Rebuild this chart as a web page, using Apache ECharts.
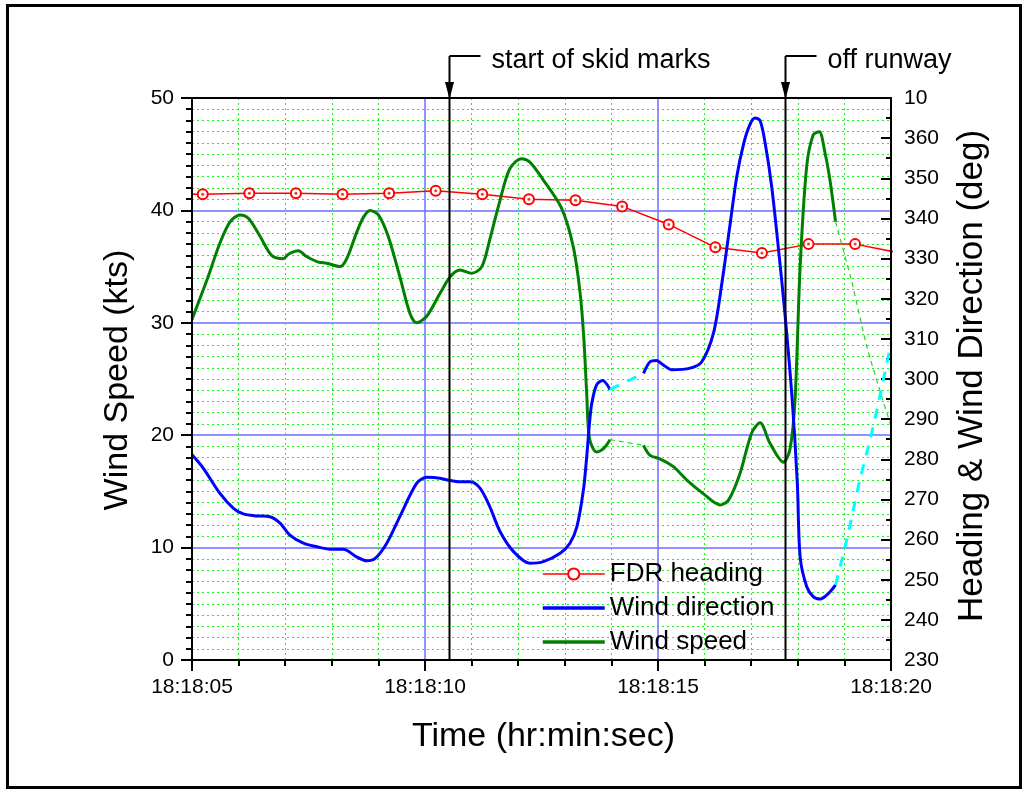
<!DOCTYPE html>
<html><head><meta charset="utf-8">
<script src="https://cdn.jsdelivr.net/npm/echarts@6/dist/echarts.min.js"></script>
<style>html,body{margin:0;padding:0;background:#fff}#c{width:1027px;height:793px}</style>
</head><body><div id="c"></div>
<script>
// ---- data (time = seconds after 18:18:00) ----
const xTickLabels = ['18:18:05', '18:18:10', '18:18:15', '18:18:20'];
const rightTickLabels = ['230','240','250','260','270','280','290','300','310','320','330','340','350','360','10'];

const headingTime = [4.23, 5.23, 6.23, 7.23, 8.23, 9.23, 10.23, 11.23, 12.23, 13.23, 14.23, 15.23, 16.23, 17.23, 18.23, 19.23, 20.23];
const headingDeg  = [346.0, 346.0, 346.3, 346.3, 346.0, 346.3, 346.9, 346.0, 344.8, 344.5, 343.0, 338.5, 332.8, 331.4, 333.6, 333.6, 331.3];

const speedSeg1 = [[5.00,30.3],[5.32,33.8],[5.60,37.1],[5.82,39.0],[6.03,39.6],[6.21,39.3],[6.46,37.7],[6.71,36.0],[6.96,35.7],[7.07,36.1],[7.28,36.4],[7.46,35.9],[7.71,35.4],[7.89,35.3],[8.18,35.0],[8.32,35.7],[8.53,38.0],[8.68,39.4],[8.82,40.0],[9.00,39.6],[9.21,37.7],[9.46,34.1],[9.68,30.8],[9.82,30.0],[10.04,30.6],[10.32,32.6],[10.54,34.1],[10.75,34.7],[11.00,34.4],[11.22,35.0],[11.39,37.4],[11.61,40.9],[11.82,43.7],[12.07,44.6],[12.25,44.3],[12.54,42.7],[12.93,40.2],[13.18,36.8],[13.33,32.6],[13.41,28.5],[13.47,23.7],[13.53,19.7],[13.68,18.5],[13.83,18.8],[13.97,19.6]];
const speedSeg2 = [[14.69,19.1],[14.83,18.2],[15.04,17.9],[15.33,17.2],[15.62,16.0],[15.97,14.8],[16.33,13.8],[16.51,14.2],[16.76,16.6],[17.01,20.2],[17.19,21.1],[17.40,19.3],[17.69,17.6],[17.83,18.7],[17.94,23.1],[18.05,35.0],[18.19,43.9],[18.33,46.7],[18.46,47.0],[18.58,45.2],[18.69,42.7],[18.81,39.0]];
const speedGapDashed = [[13.97,19.6],[14.69,19.1]];
const speedEndDashed = [[18.81,39.0],[19.15,33.8],[19.48,27.9],[19.76,24.0],[20.0,20.8]];

const dirSeg1 = [[5.00,281.1],[5.24,277.8],[5.60,271.5],[5.89,267.8],[6.10,266.4],[6.39,265.9],[6.67,265.7],[6.89,264.1],[7.10,261.1],[7.39,259.1],[7.68,258.2],[7.96,257.6],[8.25,257.6],[8.53,255.7],[8.75,254.7],[8.93,255.3],[9.18,259.1],[9.46,265.7],[9.82,274.0],[10.04,275.5],[10.32,275.3],[10.54,274.7],[10.75,274.4],[10.97,274.4],[11.18,272.8],[11.39,268.2],[11.61,262.0],[11.90,257.0],[12.25,254.1],[12.54,254.5],[12.90,256.6],[13.11,259.1],[13.26,263.2],[13.40,272.4],[13.47,280.6],[13.53,289.0],[13.58,294.0],[13.68,298.5],[13.81,299.6],[13.97,297.4]];
const dirSeg2 = [[14.69,301.4],[14.83,304.3],[14.97,304.6],[15.10,303.6],[15.30,302.3],[15.69,302.7],[15.94,304.3],[16.19,311.4],[16.37,323.8],[16.55,338.8],[16.69,350.4],[16.84,358.7],[16.97,363.3],[17.08,365.0],[17.19,364.4],[17.30,358.7],[17.44,347.9],[17.58,333.0],[17.73,315.5],[17.88,294.8],[17.99,274.0],[18.05,255.7],[18.19,248.3],[18.33,245.8],[18.48,245.2],[18.66,246.6],[18.81,248.7]];
const dirGapDashed = [[13.97,297.4],[14.69,301.4]];
const dirEndDashed = [[18.81,248.7],[19.05,259.9],[19.33,274.8],[19.55,284.8],[19.76,295.6],[20.0,308.9]];

const annotationTimes = [10.52, 17.72];
const annotationTexts = ['start of skid marks', 'off runway'];

// ---- chart ----
const FONT = "'Liberation Sans', Arial, Helvetica, sans-serif";
const BLUE_GRID = '#6e6eff';
const GREEN_GRID = '#22ee22';
const chart = echarts.init(document.getElementById('c'));

function gap(a, b) { return a.concat([[(a[a.length-1][0] + b[0][0]) / 2, '-']], b); }
const headingData = headingTime.map((t, i) => [t, headingDeg[i]]);

const option = {
  animation: false,
  backgroundColor: '#fff',
  grid: { left: 192, right: 136, top: 98, bottom: 133, containLabel: false },
  xAxis: {
    type: 'value', min: 5, max: 20, interval: 5,
    axisLine: { show: true, onZero: false, lineStyle: { color: '#000', width: 2 } },
    axisTick: { show: true, length: 11, lineStyle: { color: '#000', width: 2 } },
    minorTick: { show: true, splitNumber: 5, length: 6, lineStyle: { color: '#000', width: 2 } },
    axisLabel: { formatter: v => xTickLabels[Math.round((v - 5) / 5)], fontFamily: FONT, fontSize: 21, color: '#000', margin: 17 },
    splitLine: { show: true, showMinLine: false, showMaxLine: false, lineStyle: { color: BLUE_GRID, width: 1.5 } },
    minorSplitLine: { show: true, lineStyle: { color: GREEN_GRID, width: 1, type: [2, 3] } }
  },
  yAxis: [{
    type: 'value', min: 0, max: 50, interval: 10, position: 'left',
    axisLine: { show: true, onZero: false, lineStyle: { color: '#000', width: 2 } },
    axisTick: { show: true, length: 11, lineStyle: { color: '#000', width: 2 } },
    minorTick: { show: true, splitNumber: 10, length: 6, lineStyle: { color: '#000', width: 2 } },
    axisLabel: { fontFamily: FONT, fontSize: 21, color: '#000', margin: 18 },
    splitLine: { show: true, showMinLine: false, showMaxLine: false, lineStyle: { color: BLUE_GRID, width: 1.5 } },
    minorSplitLine: { show: true, lineStyle: { color: GREEN_GRID, width: 1, type: [2, 3] } }
  }, {
    type: 'value', min: 230, max: 370, interval: 10, position: 'right',
    axisLine: { show: true, onZero: false, lineStyle: { color: '#000', width: 2 } },
    axisTick: { show: true, inside: true, length: 10, lineStyle: { color: '#000', width: 2 } },
    minorTick: { show: true, splitNumber: 2, length: 5, lineStyle: { color: '#000', width: 2 } },
    axisLabel: { formatter: v => rightTickLabels[Math.round((v - 230) / 10)], fontFamily: FONT, fontSize: 21, color: '#000', margin: 13 },
    splitLine: { show: false }
  }],
  legend: {
    data: [
      { name: 'FDR heading', lineStyle: { width: 1.5 } },
      { name: 'Wind direction', lineStyle: { width: 3.5 } },
      { name: 'Wind speed', lineStyle: { width: 3.5 } }
    ],
    orient: 'vertical', left: 541, top: 561, padding: 0,
    itemWidth: 62, itemHeight: 14, itemGap: 8,
    textStyle: { fontFamily: FONT, fontSize: 26, color: '#000', lineHeight: 25 },
    backgroundColor: 'transparent'
  },
  series: [
    { name: 'FDR heading', type: 'line', yAxisIndex: 1, data: headingData,
      symbol: 'emptyCircle', symbolSize: 10, showAllSymbol: true,
      lineStyle: { color: '#ff0000', width: 1.5 },
      itemStyle: { color: '#ff0000', borderWidth: 1.5 }, z: 3 },
    { name: 'headingDots', type: 'scatter', yAxisIndex: 1, data: headingData,
      symbol: 'circle', symbolSize: 3, itemStyle: { color: '#ff0000' }, silent: true, z: 4 },
    { name: 'Wind speed', type: 'line', yAxisIndex: 0, data: gap(speedSeg1, speedSeg2),
      showSymbol: false, symbol: 'none', smooth: 0.3,
      lineStyle: { color: '#008000', width: 3 }, itemStyle: { color: '#008000', opacity: 0 }, z: 5 },
    { name: 'speedDashed', type: 'line', yAxisIndex: 0, data: gap(speedGapDashed, speedEndDashed),
      showSymbol: false, symbol: 'none', smooth: 0.2, silent: true,
      lineStyle: { color: '#2ad42a', width: 1.2, type: [5, 4] }, z: 5 },
    { name: 'Wind direction', type: 'line', yAxisIndex: 1, data: gap(dirSeg1, dirSeg2),
      showSymbol: false, symbol: 'none', smooth: 0.3,
      lineStyle: { color: '#0000ff', width: 3 }, itemStyle: { color: '#0000ff', opacity: 0 }, z: 6 },
    { name: 'dirDashed', type: 'line', yAxisIndex: 1, data: gap(dirGapDashed, dirEndDashed),
      showSymbol: false, symbol: 'none', smooth: 0.2, silent: true,
      lineStyle: { color: '#00ffff', width: 3, type: [10, 9] }, z: 6 }
  ]
};
chart.setOption(option);

// ---- decorations positioned through the axes ----
const x0 = chart.convertToPixel({ xAxisIndex: 0 }, 5);
const x1 = chart.convertToPixel({ xAxisIndex: 0 }, 20);
const yb = chart.convertToPixel({ yAxisIndex: 0 }, 0);
const yt = chart.convertToPixel({ yAxisIndex: 0 }, 50);
const g = [];
g.push({ type: 'rect', shape: { x: 7.5, y: 5.5, width: 1013, height: 782 }, style: { fill: 'none', stroke: '#000', lineWidth: 3 }, z: 100 });
g.push({ type: 'rect', shape: { x: x0, y: yt, width: x1 - x0, height: yb - yt }, style: { fill: 'none', stroke: '#000', lineWidth: 2 }, z: 100 });
g.push({ type: 'text', x: (x0 + x1) / 2 + 2, y: 737, style: { text: 'Time (hr:min:sec)', font: '34px ' + FONT, fill: '#000', align: 'center', verticalAlign: 'middle' }, z: 100 });
g.push({ type: 'text', x: 118, y: 380, rotation: Math.PI / 2, style: { text: 'Wind Speed (kts)', font: '34px ' + FONT, fill: '#000', align: 'center', verticalAlign: 'middle' }, z: 100 });
g.push({ type: 'text', x: 972, y: 376, rotation: Math.PI / 2, style: { text: 'Heading & Wind Direction (deg)', font: '35px ' + FONT, fill: '#000', align: 'center', verticalAlign: 'middle' }, z: 100 });
annotationTimes.forEach((t, i) => {
  const ax = Math.round(chart.convertToPixel({ xAxisIndex: 0 }, t)) + 0.5;
  const topY = 56;
  g.push({ type: 'line', shape: { x1: ax, y1: topY, x2: ax, y2: yb }, style: { stroke: '#000', lineWidth: 2 }, z: 101 });
  g.push({ type: 'line', shape: { x1: ax, y1: topY, x2: ax + 31, y2: topY }, style: { stroke: '#000', lineWidth: 2 }, z: 101 });
  g.push({ type: 'polygon', shape: { points: [[ax - 4.5, yt - 16], [ax + 4.5, yt - 16], [ax, yt + 1]] }, style: { fill: '#000' }, z: 101 });
  g.push({ type: 'text', x: ax + 42, y: 61, style: { text: annotationTexts[i], font: '27px ' + FONT, fill: '#000', align: 'left', verticalAlign: 'middle' }, z: 101 });
});
chart.setOption({ graphic: g });
</script>
</body></html>
